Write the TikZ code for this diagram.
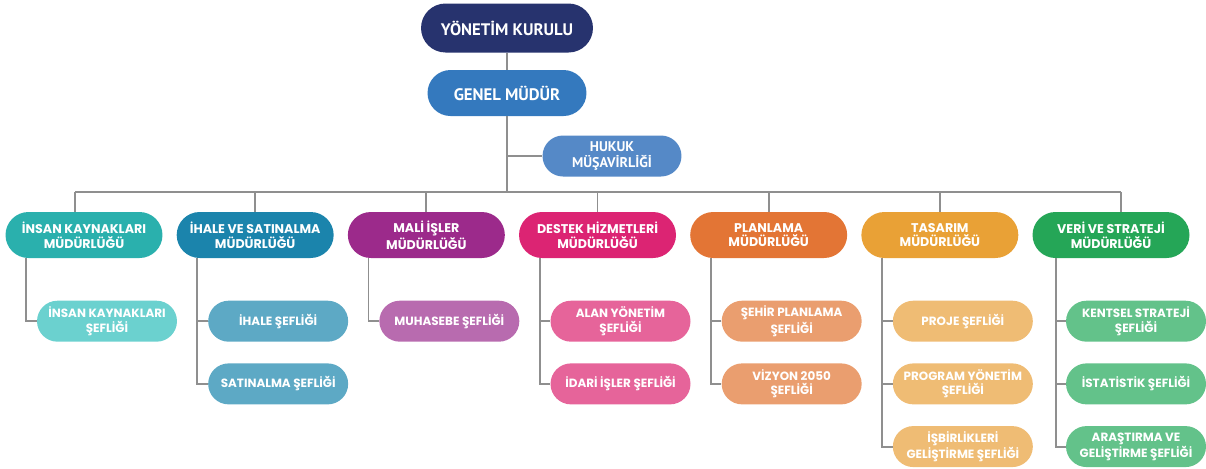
\documentclass[tikz,border=0pt]{standalone}
\usepackage{fontspec}
\setmainfont{Poppins}
\newfontfamily\ustfont{PT Sans}
\usetikzlibrary{positioning,calc}

\definecolor{ykRenk}{HTML}{27336E}
\definecolor{gmRenk}{HTML}{3479BE}
\definecolor{hkRenk}{HTML}{5589C7}
\definecolor{ikKoyu}{HTML}{2AB0AD}
\definecolor{ikAcik}{HTML}{6BD1CF}
\definecolor{ihKoyu}{HTML}{1B84AC}
\definecolor{ihAcik}{HTML}{5DA9C5}
\definecolor{mlKoyu}{HTML}{9C2A8B}
\definecolor{mlAcik}{HTML}{B86BAF}
\definecolor{dhKoyu}{HTML}{DC2473}
\definecolor{dhAcik}{HTML}{E6649A}
\definecolor{plKoyu}{HTML}{E37535}
\definecolor{plAcik}{HTML}{EA9E6F}
\definecolor{tsKoyu}{HTML}{E9A136}
\definecolor{tsAcik}{HTML}{EFBC74}
\definecolor{vsKoyu}{HTML}{25A657}
\definecolor{vsAcik}{HTML}{63C28A}
\definecolor{hatGri}{HTML}{8F8F8F}

\begin{document}
\begin{tikzpicture}[x=0.02cm,y=-0.02cm,
hat/.style={
  draw=hatGri,
  line width=1.1pt
},
ust/.style={
  text=white,
  align=center,
  inner sep=0pt,
  font=\ustfont\bfseries\fontsize{9.5}{10.5}\selectfont
},
mudurluk/.style={
  text=white,
  align=center,
  inner sep=0pt,
  minimum width=3.14cm,
  minimum height=0.92cm,
  rounded corners=0.46cm,
  font=\bfseries\fontsize{7.2}{8.4}\selectfont
},
seflik/.style={
  text=white,
  align=center,
  inner sep=0pt,
  minimum width=2.8cm,
  minimum height=0.82cm,
  rounded corners=0.41cm,
  font=\bfseries\fontsize{6.8}{8.2}\selectfont
}]
\useasboundingbox (0,0) rectangle (1206,468);

\node[ust, fill=ykRenk, minimum width=3.44cm, minimum height=0.98cm, rounded corners=0.49cm] (YK) at (507,28) {YÖNETİM KURULU};
\node[ust, fill=gmRenk, minimum width=3.18cm, minimum height=0.92cm, rounded corners=0.46cm] (GM) at (507,93) {GENEL MÜDÜR};
\node[ust, fill=hkRenk, minimum width=2.78cm, minimum height=0.82cm, rounded corners=0.41cm, font=\ustfont\bfseries\fontsize{8}{9}\selectfont] (HK) at (612,156) {HUKUK\\MÜŞAVİRLİĞİ};

\coordinate (barL) at (75,192);
\coordinate (barR) at (1121,192);

\draw[hat] (YK) -- (GM);
\draw[hat] (GM.south) -- (GM.south |- barL);
\draw[hat] (GM.south |- HK.west) -- (HK.west);
\draw[hat] (barL) -- (barR);

% mudurlukler
\node[mudurluk, fill=ikKoyu] (IK) at (84,235) {İNSAN KAYNAKLARI\\MÜDÜRLÜĞÜ};
\node[mudurluk, fill=ihKoyu] (IH) [right=0.27cm of IK] {İHALE VE SATINALMA\\MÜDÜRLÜĞÜ};
\node[mudurluk, fill=mlKoyu] (ML) [right=0.27cm of IH] {MALİ İŞLER\\MÜDÜRLÜĞÜ};
\node[mudurluk, fill=dhKoyu] (DH) [right=0.27cm of ML] {DESTEK HİZMETLERİ\\MÜDÜRLÜĞÜ};
\node[mudurluk, fill=plKoyu] (PL) [right=0.27cm of DH] {PLANLAMA\\MÜDÜRLÜĞÜ};
\node[mudurluk, fill=tsKoyu] (TS) [right=0.27cm of PL] {TASARIM\\MÜDÜRLÜĞÜ};
\node[mudurluk, fill=vsKoyu] (VS) [right=0.27cm of TS] {VERİ VE STRATEJİ\\MÜDÜRLÜĞÜ};

\draw[hat] (barL) -- (barL |- IK.north);
\draw[hat] (IH.north) -- (IH.north |- barL);
\draw[hat] (ML.north) -- (ML.north |- barL);
\draw[hat] (DH.north) -- (DH.north |- barL);
\draw[hat] (PL.north) -- (PL.north |- barL);
\draw[hat] (TS.north) -- (TS.north |- barL);
\draw[hat] (barR) -- (barR |- VS.north);

% seflikler
\node[seflik, fill=ikAcik] (IK1) [below=0.84cm of IK, xshift=0.46cm] {İNSAN KAYNAKLARI\\ŞEFLİĞİ};

\node[seflik, fill=ihAcik] (IH1) [below=0.84cm of IH, xshift=0.46cm] {İHALE ŞEFLİĞİ};
\node[seflik, fill=ihAcik] (IH2) [below=0.42cm of IH1] {SATINALMA ŞEFLİĞİ};

\node[seflik, fill=mlAcik] (ML1) [below=0.84cm of ML, xshift=0.46cm] {MUHASEBE ŞEFLİĞİ};

\node[seflik, fill=dhAcik] (DH1) [below=0.84cm of DH, xshift=0.46cm] {ALAN YÖNETİM\\ŞEFLİĞİ};
\node[seflik, fill=dhAcik] (DH2) [below=0.42cm of DH1] {İDARİ İŞLER ŞEFLİĞİ};

\node[seflik, fill=plAcik] (PL1) [below=0.84cm of PL, xshift=0.46cm] {ŞEHİR PLANLAMA\\ŞEFLİĞİ};
\node[seflik, fill=plAcik] (PL2) [below=0.42cm of PL1] {VİZYON 2050\\ŞEFLİĞİ};

\node[seflik, fill=tsAcik] (TS1) [below=0.84cm of TS, xshift=0.46cm] {PROJE ŞEFLİĞİ};
\node[seflik, fill=tsAcik] (TS2) [below=0.42cm of TS1] {PROGRAM YÖNETİM\\ŞEFLİĞİ};
\node[seflik, fill=tsAcik] (TS3) [below=0.42cm of TS2] {İŞBİRLİKLERİ\\GELİŞTİRME ŞEFLİĞİ};

\node[seflik, fill=vsAcik] (VS1) [below=0.84cm of VS, xshift=0.5cm] {KENTSEL STRATEJİ\\ŞEFLİĞİ};
\node[seflik, fill=vsAcik] (VS2) [below=0.42cm of VS1] {İSTATİSTİK ŞEFLİĞİ};
\node[seflik, fill=vsAcik] (VS3) [below=0.42cm of VS2] {ARAŞTIRMA VE\\GELİŞTİRME ŞEFLİĞİ};

\draw[hat] ($(IK.south west)+(0.42cm,0)$) |- (IK1.west);
\draw[hat] ($(IH.south west)+(0.42cm,0)$) |- (IH1.west);
\draw[hat] ($(IH.south west)+(0.42cm,0)$) |- (IH2.west);
\draw[hat] ($(ML.south west)+(0.42cm,0)$) |- (ML1.west);
\draw[hat] ($(DH.south west)+(0.42cm,0)$) |- (DH1.west);
\draw[hat] ($(DH.south west)+(0.42cm,0)$) |- (DH2.west);
\draw[hat] ($(PL.south west)+(0.42cm,0)$) |- (PL1.west);
\draw[hat] ($(PL.south west)+(0.42cm,0)$) |- (PL2.west);
\draw[hat] ($(TS.south west)+(0.42cm,0)$) |- (TS1.west);
\draw[hat] ($(TS.south west)+(0.42cm,0)$) |- (TS2.west);
\draw[hat] ($(TS.south west)+(0.42cm,0)$) |- (TS3.west);
\draw[hat] ($(VS.south west)+(0.48cm,0)$) |- (VS1.west);
\draw[hat] ($(VS.south west)+(0.48cm,0)$) |- (VS2.west);
\draw[hat] ($(VS.south west)+(0.48cm,0)$) |- (VS3.west);

\end{tikzpicture}
\end{document}
